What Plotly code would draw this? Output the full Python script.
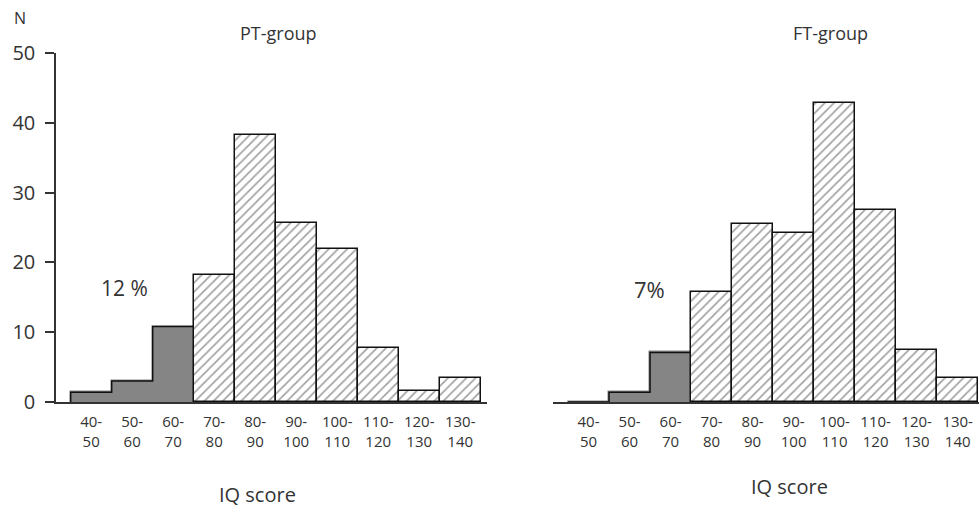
import plotly.graph_objects as go

# ---- data ----
bins = ["40-<br>50", "50-<br>60", "60-<br>70", "70-<br>80", "80-<br>90",
        "90-<br>100", "100-<br>110", "110-<br>120", "120-<br>130", "130-<br>140"]
pt_counts = [1.4, 3.0, 10.8, 18.2, 38.2, 25.7, 21.9, 7.7, 1.6, 3.4]
ft_counts = [0.0, 1.4, 7.1, 15.7, 25.5, 24.2, 42.9, 27.5, 7.5, 3.4]
n_low = 3  # first three bins (IQ < 70) shaded grey
pt_label = "12 %"
ft_label = "7%"
y_ticks = [0, 10, 20, 30, 40, 50]

W, H = 979, 509
FONT = "Open Sans"
TXT = "#333333"
GREY = "#858585"

def px(x):
    return x / W

def py(y):
    return 1 - y / H

idx = list(range(len(bins)))
colors = [GREY] * n_low + ["white"] * (len(bins) - n_low)
shapes = [""] * n_low + ["/"] * (len(bins) - n_low)
line_cols = [GREY] * n_low + ["#111111"] * (len(bins) - n_low)


def add_group(fig, counts, xa, ya):
    fig.add_trace(go.Bar(
        x=idx, y=counts, width=1, xaxis=xa, yaxis=ya,
        marker=dict(color=colors,
                    line=dict(color=line_cols, width=1.5),
                    pattern=dict(shape=shapes, fgcolor="#000000", bgcolor=colors,
                                 fillmode="overlay", size=6.5, solidity=0.26)),
        showlegend=False, hoverinfo="skip"))
    # step outline of the grey region
    sx = [-0.5, -0.5] + [i + 0.5 for i in range(n_low)]
    sy = [0] + counts[:n_low] + [counts[n_low - 1]]
    fig.add_trace(go.Scatter(
        x=sx, y=sy, xaxis=xa, yaxis=ya, mode="lines",
        line=dict(color="#111111", width=1.5, shape="hv"),
        showlegend=False, hoverinfo="skip"))


fig = go.Figure()
add_group(fig, pt_counts, "x", "y")
add_group(fig, ft_counts, "x2", "y2")

ydom = [py(402), py(53)]
tickfont = dict(family=FONT, size=15, color=TXT)

fig.update_layout(
    template="none",
    width=W, height=H,
    margin=dict(l=0, r=0, t=0, b=0, pad=0),
    paper_bgcolor="white", plot_bgcolor="white",
    bargap=0,
    xaxis=dict(domain=[px(56), px(487)], range=[-0.858, 9.654], automargin=False,
               tickvals=idx, ticktext=bins, tickfont=tickfont,
               showline=True, linecolor="#333333", linewidth=2,
               ticks="outside", ticklen=5, tickcolor="rgba(0,0,0,0)",
               showgrid=False, zeroline=False, anchor="y"),
    yaxis=dict(domain=ydom, range=[0, 50], tickvals=y_ticks, automargin=False,
               tickfont=dict(family=FONT, size=20, color=TXT),
               showline=True, linecolor="#333333", linewidth=1.5,
               ticks="outside", ticklen=9, tickwidth=1.5, tickcolor="#333333",
               ticklabelstandoff=6,
               showgrid=False, zeroline=False, anchor="x"),
    xaxis2=dict(domain=[px(553), 1.0], range=[-0.866, 9.52], automargin=False,
                tickvals=idx, ticktext=bins, tickfont=tickfont,
                showline=True, linecolor="#333333", linewidth=2,
                ticks="outside", ticklen=5, tickcolor="rgba(0,0,0,0)",
                showgrid=False, zeroline=False, anchor="y2"),
    yaxis2=dict(domain=ydom, range=[0, 50], visible=False, anchor="x2",
                automargin=False),
)


def note(text, x, y, size):
    fig.add_annotation(text=text, x=px(x), y=py(y), xref="paper", yref="paper",
                       showarrow=False, xanchor="center", yanchor="middle",
                       font=dict(family=FONT, size=size, color=TXT))


note("N", 20, 18, 16)
note("PT-group", 278, 33, 18)
note("FT-group", 830, 33, 18)
note(pt_label, 125, 288, 21)
note(ft_label, 649, 289, 22)
note("IQ score", 257, 494, 20)
note("IQ score", 789, 486, 20)

fig.write_html(
    "out.html",
    config={"displayModeBar": False},
    post_script="document.body.style.margin='0';document.body.style.padding='0';"
                "document.body.style.overflow='hidden';",
)
